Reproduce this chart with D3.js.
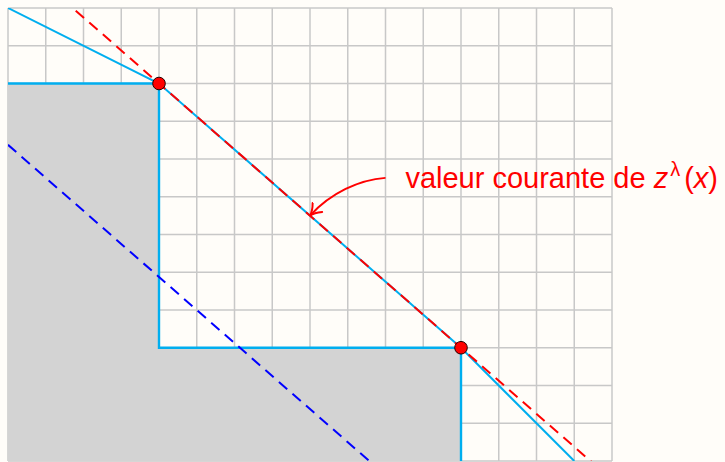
<!DOCTYPE html>
<html>
<head>
<meta charset="utf-8">
<script src="https://cdn.jsdelivr.net/npm/d3@7"></script>
<style>
  html, body { margin: 0; padding: 0; background: #fffdf9; }
  svg { display: block; }
</style>
</head>
<body>
<script>
// grid extent, in units
var xCells = 16;
var yCells = 12;

// staircase region (shaded) and its border
var regionPts = [[0, 0], [0, 10], [4, 10], [4, 3], [12, 3], [12, 0]];
var borderPts = [[0, 10], [4, 10], [4, 3], [12, 3], [12, 0]];

// lower envelope (solid light blue)
var envelopePts = [[0, 12], [4, 10], [12, 3], [15, 0]];

// current line through the two vertices, and a parallel one below
var redLine = [[0, 13.5], [16, -0.5]];
var blueLine = [[0, 8.375], [16, -5.625]];

// touching points
var dots = [[4, 10], [12, 3]];

// annotation arrow: start, two controls, tip
var arrowPts = [[10, 7.5], [9.3, 7.45], [8.55, 7.1], [8, 6.5]];
var labelPos = [10.5, 7.5];

var width = 725, height = 462;

var x = d3.scaleLinear().domain([0, xCells]).range([8, 612]);
var y = d3.scaleLinear().domain([0, yCells]).range([461, 8]);

var svg = d3.select('body').append('svg')
    .attr('width', width)
    .attr('height', height);

svg.append('rect')
    .attr('width', width)
    .attr('height', height)
    .attr('fill', '#fffdf9');

var defs = svg.append('defs');
defs.append('clipPath').attr('id', 'plot')
  .append('rect')
    .attr('x', x(0))
    .attr('y', y(yCells))
    .attr('width', x(xCells) - x(0))
    .attr('height', y(0) - y(yCells));

defs.append('marker')
    .attr('id', 'head')
    .attr('viewBox', '-12 -8 14 16')
    .attr('refX', 0)
    .attr('refY', 0)
    .attr('markerWidth', 14)
    .attr('markerHeight', 16)
    .attr('markerUnits', 'userSpaceOnUse')
    .attr('orient', 'auto')
  .append('path')
    .attr('d', 'M -11,-6.5 Q -5,-1 0,0 Q -5,1 -11,6.5')
    .attr('fill', 'none')
    .attr('stroke', 'red')
    .attr('stroke-width', 2)
    .attr('stroke-linecap', 'round');

// grid
var grid = svg.append('g');
grid.selectAll('line.v').data(d3.range(0, xCells + 1)).enter().append('line')
    .attr('x1', function(d) { return x(d); })
    .attr('x2', function(d) { return x(d); })
    .attr('y1', y(0))
    .attr('y2', y(yCells));
grid.selectAll('line.h').data(d3.range(0, yCells + 1)).enter().append('line')
    .attr('y1', function(d) { return y(d); })
    .attr('y2', function(d) { return y(d); })
    .attr('x1', x(0))
    .attr('x2', x(xCells));
grid.selectAll('line')
    .attr('stroke', '#c8c8c8')
    .attr('stroke-width', 1.5);

var line = d3.line()
    .x(function(d) { return x(d[0]); })
    .y(function(d) { return y(d[1]); });

var plot = svg.append('g').attr('clip-path', 'url(#plot)');

plot.append('path')
    .attr('d', line(regionPts) + 'Z')
    .attr('fill', '#d3d3d3');

plot.append('path')
    .attr('d', line(borderPts))
    .attr('fill', 'none')
    .attr('stroke', '#00aeef')
    .attr('stroke-width', 2.4);

plot.append('path')
    .attr('d', line(envelopePts))
    .attr('fill', 'none')
    .attr('stroke', '#00aeef')
    .attr('stroke-width', 2);

plot.append('path')
    .attr('d', line(blueLine))
    .attr('fill', 'none')
    .attr('stroke', '#0000ff')
    .attr('stroke-width', 2)
    .attr('stroke-dasharray', '11,7');

plot.append('path')
    .attr('d', line(redLine))
    .attr('fill', 'none')
    .attr('stroke', '#ff0000')
    .attr('stroke-width', 2)
    .attr('stroke-dasharray', '11,7');

svg.selectAll('circle').data(dots).enter().append('circle')
    .attr('cx', function(d) { return x(d[0]); })
    .attr('cy', function(d) { return y(d[1]); })
    .attr('r', 6.3)
    .attr('fill', '#ff0000')
    .attr('stroke', '#200000')
    .attr('stroke-width', 1);

// annotation
var a = arrowPts.map(function(p) { return [x(p[0]), y(p[1])]; });
svg.append('path')
    .attr('d', 'M' + a[0] + 'C' + a[1] + ' ' + a[2] + ' ' + a[3])
    .attr('fill', 'none')
    .attr('stroke', 'red')
    .attr('stroke-width', 2)
    .attr('marker-end', 'url(#head)');

var label = svg.append('text')
    .attr('x', x(labelPos[0]) + 1)
    .attr('y', y(labelPos[1]))
    .attr('dy', '0.36em')
    .attr('fill', 'red')
    .attr('font-family', '"Liberation Sans", Arial, sans-serif')
    .attr('font-size', 29);
label.append('tspan').text('valeur courante de ');
label.append('tspan').attr('font-style', 'italic').text('z');
label.append('tspan').attr('font-size', 20).attr('dy', -12).attr('dx', 2).text('λ');
label.append('tspan').attr('dy', 12).attr('dx', 4).text('(');
label.append('tspan').attr('font-style', 'italic').text('x');
label.append('tspan').text(')');
</script>
</body>
</html>
